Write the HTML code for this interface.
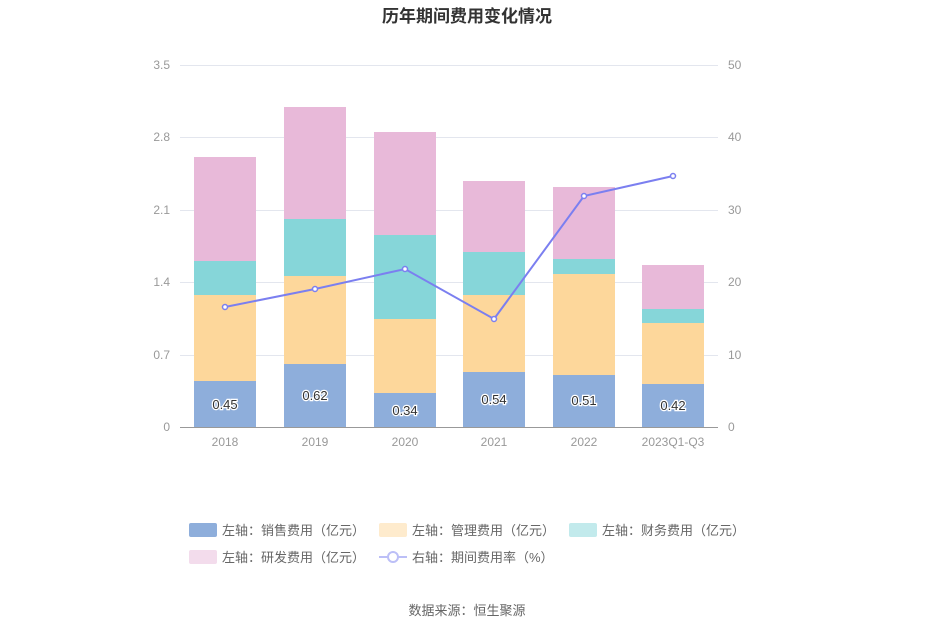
<!DOCTYPE html>
<html><head><meta charset="utf-8"><style>
body{margin:0;background:#fff;}
svg text{font-family:"Liberation Sans","Noto Sans CJK SC",sans-serif;}
</style></head><body>
<svg width="935" height="632" viewBox="0 0 935 632" xmlns="http://www.w3.org/2000/svg">
<rect width="935" height="632" fill="#fff"/>
<text x="467" y="22" text-anchor="middle" font-size="17" font-weight="bold" fill="#333">历年期间费用变化情况</text>
<g stroke="#e3e6ee" stroke-width="1">
<line x1="180" x2="718" y1="65.5" y2="65.5"/><line x1="180" x2="718" y1="137.5" y2="137.5"/>
<line x1="180" x2="718" y1="210.5" y2="210.5"/><line x1="180" x2="718" y1="282.5" y2="282.5"/>
<line x1="180" x2="718" y1="355.5" y2="355.5"/>
</g>
<line x1="180" x2="718" y1="427.5" y2="427.5" stroke="#999"/>
<g font-size="12" fill="#999" text-anchor="end">
<text x="170" y="69">3.5</text><text x="170" y="141">2.8</text><text x="170" y="214">2.1</text>
<text x="170" y="286">1.4</text><text x="170" y="359">0.7</text><text x="170" y="431">0</text>
</g>
<g font-size="12" fill="#999" text-anchor="start">
<text x="728" y="69">50</text><text x="728" y="141">40</text><text x="728" y="214">30</text>
<text x="728" y="286">20</text><text x="728" y="359">10</text><text x="728" y="431">0</text>
</g>
<g font-size="12" fill="#999" text-anchor="middle">
<text x="225" y="446">2018</text><text x="315" y="446">2019</text><text x="405" y="446">2020</text>
<text x="494" y="446">2021</text><text x="584" y="446">2022</text><text x="673" y="446">2023Q1-Q3</text>
</g>
<g>
<!-- 2018 -->
<rect x="194" y="157" width="62" height="104" fill="#e8b9d9"/><rect x="194" y="261" width="62" height="34" fill="#86d6d9"/>
<rect x="194" y="295" width="62" height="86" fill="#fdd79b"/><rect x="194" y="381" width="62" height="46" fill="#8eaedb"/>
<!-- 2019 -->
<rect x="284" y="107" width="62" height="112" fill="#e8b9d9"/><rect x="284" y="219" width="62" height="57" fill="#86d6d9"/>
<rect x="284" y="276" width="62" height="88" fill="#fdd79b"/><rect x="284" y="364" width="62" height="63" fill="#8eaedb"/>
<!-- 2020 -->
<rect x="374" y="132" width="62" height="103" fill="#e8b9d9"/><rect x="374" y="235" width="62" height="84" fill="#86d6d9"/>
<rect x="374" y="319" width="62" height="74" fill="#fdd79b"/><rect x="374" y="393" width="62" height="34" fill="#8eaedb"/>
<!-- 2021 -->
<rect x="463" y="181" width="62" height="71" fill="#e8b9d9"/><rect x="463" y="252" width="62" height="43" fill="#86d6d9"/>
<rect x="463" y="295" width="62" height="77" fill="#fdd79b"/><rect x="463" y="372" width="62" height="55" fill="#8eaedb"/>
<!-- 2022 -->
<rect x="553" y="187" width="62" height="72" fill="#e8b9d9"/><rect x="553" y="259" width="62" height="15" fill="#86d6d9"/>
<rect x="553" y="274" width="62" height="101" fill="#fdd79b"/><rect x="553" y="375" width="62" height="52" fill="#8eaedb"/>
<!-- 2023 -->
<rect x="642" y="265" width="62" height="44" fill="#e8b9d9"/><rect x="642" y="309" width="62" height="14" fill="#86d6d9"/>
<rect x="642" y="323" width="62" height="61" fill="#fdd79b"/><rect x="642" y="384" width="62" height="43" fill="#8eaedb"/>
</g>
<g font-size="13" fill="#333" text-anchor="middle" stroke="#fff" stroke-width="2.5" paint-order="stroke">
<text x="225" y="409">0.45</text><text x="315" y="400">0.62</text><text x="405" y="415">0.34</text>
<text x="494" y="404">0.54</text><text x="584" y="405">0.51</text><text x="673" y="410">0.42</text>
</g>
<polyline points="225,307 315,289 405,269 494,319 584,196 673,176" fill="none" stroke="#7b7ff0" stroke-width="2"/>
<g fill="#fff" stroke="#7b7ff0" stroke-width="1.5">
<circle cx="225" cy="307" r="2.5"/><circle cx="315" cy="289" r="2.5"/><circle cx="405" cy="269" r="2.5"/>
<circle cx="494" cy="319" r="2.5"/><circle cx="584" cy="196" r="2.5"/><circle cx="673" cy="176" r="2.5"/>
</g>
<g font-size="13" fill="#666">
<rect x="189" y="523" width="28" height="14" rx="2" fill="#8eaedb"/><text x="222" y="535">左轴：销售费用（亿元）</text>
<rect x="379" y="523" width="28" height="14" rx="2" fill="#feebcd"/><text x="412" y="535">左轴：管理费用（亿元）</text>
<rect x="569" y="523" width="28" height="14" rx="2" fill="#c2eaec"/><text x="602" y="535">左轴：财务费用（亿元）</text>
<rect x="189" y="550" width="28" height="14" rx="2" fill="#f3dcec"/><text x="222" y="562">左轴：研发费用（亿元）</text>
<line x1="379" x2="407" y1="557" y2="557" stroke="#bcbff7" stroke-width="2"/>
<circle cx="393" cy="557" r="5" fill="#fff" stroke="#bcbff7" stroke-width="2"/>
<text x="412" y="562">右轴：期间费用率（%）</text>
</g>
<text x="467" y="615" text-anchor="middle" font-size="13" fill="#666">数据来源：恒生聚源</text>
</svg>
</body></html>
